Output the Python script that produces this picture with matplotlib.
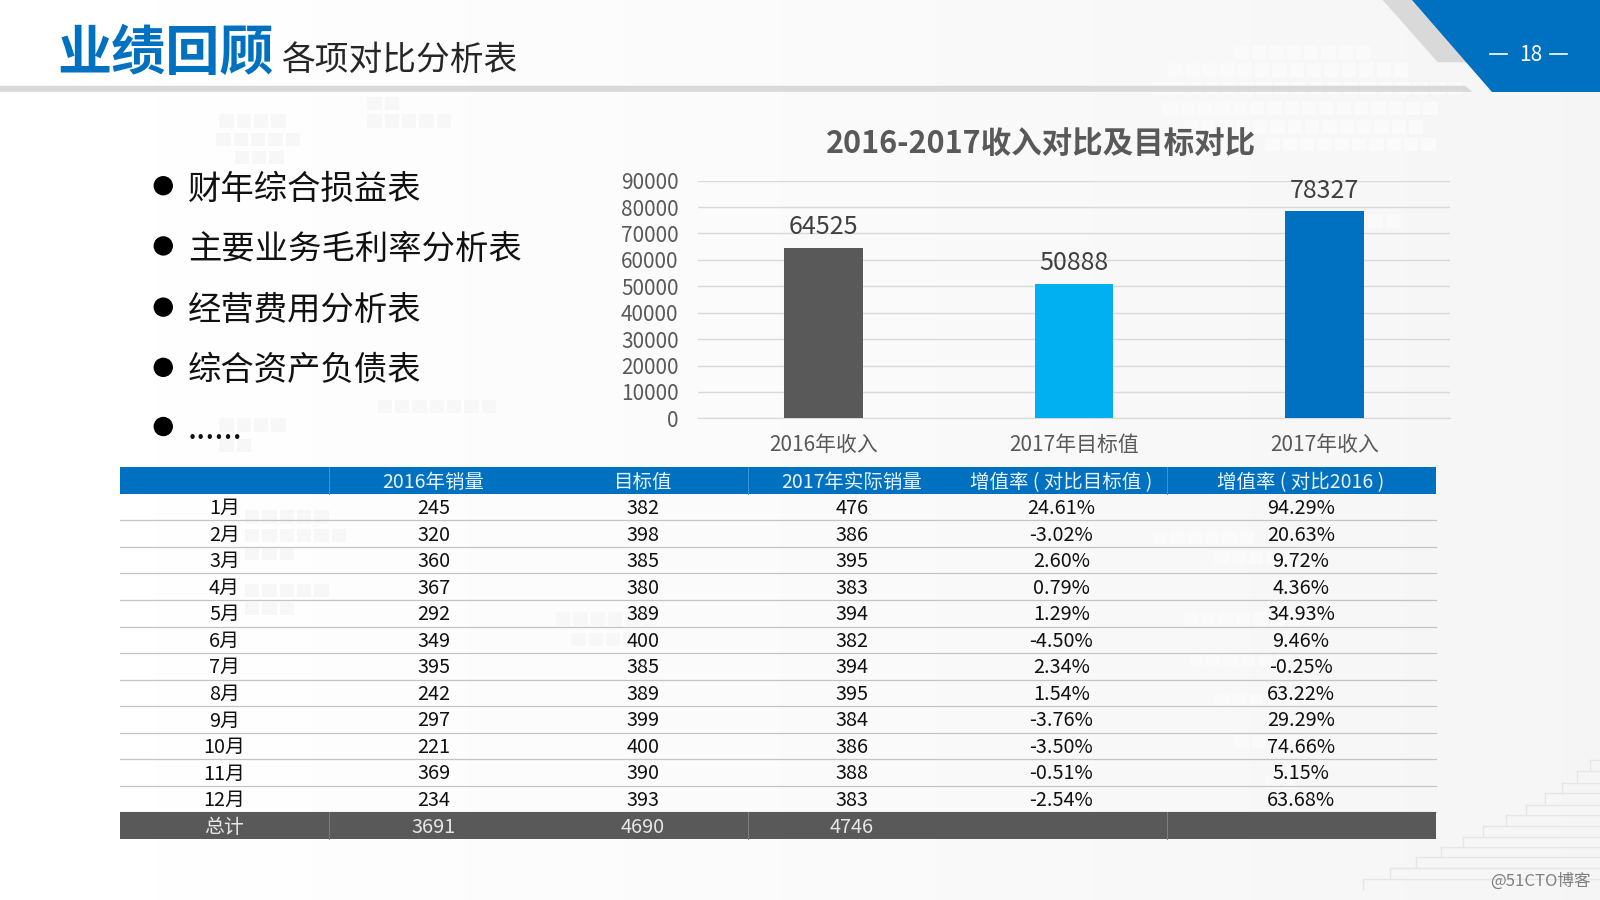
import numpy as np
import matplotlib
matplotlib.use("Agg")
import matplotlib.pyplot as plt
from matplotlib.patches import Polygon, Rectangle, Circle

plt.rcParams['font.family'] = ['Noto Sans CJK SC', 'DejaVu Sans']

# Chart data
bar_labels = ['2016年收入', '2017年目标值', '2017年收入']
bar_values = [64525, 50888, 78327]
bar_colors = ['#595959', '#00B0F0', '#0070C0']
y_ticks = [0, 10000, 20000, 30000, 40000, 50000, 60000, 70000, 80000, 90000]

# Table data
table_header = ['', '2016年销量', '目标值', '2017年实际销量', '增值率 ( 对比目标值 )', '增值率 ( 对比2016 )']
months = ['1月', '2月', '3月', '4月', '5月', '6月', '7月', '8月', '9月', '10月', '11月', '12月']
sales_2016 = [245, 320, 360, 367, 292, 349, 395, 242, 297, 221, 369, 234]
targets = [382, 398, 385, 380, 389, 400, 385, 389, 399, 400, 390, 393]
sales_2017 = [476, 386, 395, 383, 394, 382, 394, 395, 384, 386, 388, 383]
rate_target = ['24.61%', '-3.02%', '2.60%', '0.79%', '1.29%', '-4.50%', '2.34%', '1.54%',
               '-3.76%', '-3.50%', '-0.51%', '-2.54%']
rate_2016 = ['94.29%', '20.63%', '9.72%', '4.36%', '34.93%', '9.46%', '-0.25%', '63.22%',
             '29.29%', '74.66%', '5.15%', '63.68%']
totals = ['总计', '3691', '4690', '4746', '', '']

bullets = ['财年综合损益表', '主要业务毛利率分析表', '经营费用分析表', '综合资产负债表', '......']

BLUE = '#0070C0'
W, H = 1568, 882

fig = plt.figure(figsize=(16, 9), dpi=100)

# Slide background, in reference pixel coordinates
bg = fig.add_axes([0, 0, 1, 1])
bg.set_xlim(0, W)
bg.set_ylim(H, 0)
bg.axis('off')
shade = np.linspace(1.0, 0.96, 256).reshape(1, -1)
bg.imshow(shade, cmap='gray', vmin=0, vmax=1, extent=[0, W, H, 0], aspect='auto', zorder=0)

# faint map blocks: (x start, y, count)
light_blocks = [(215, 112, 4), (212, 130, 5), (360, 95, 2), (360, 112, 5), (230, 148, 3),
                (240, 500, 5), (240, 518, 6), (240, 536, 3), (240, 572, 5), (240, 590, 3),
                (370, 392, 7), (215, 410, 4), (215, 430, 2), (545, 600, 6), (560, 620, 5)]
white_blocks = [(1210, 45, 8), (1145, 62, 14), (1130, 80, 18), (1140, 100, 16), (1160, 118, 14),
                (1240, 135, 10), (1290, 210, 5), (1130, 520, 6), (1190, 540, 5), (1160, 600, 8),
                (1165, 640, 6), (1190, 680, 5), (1210, 720, 4), (1240, 760, 2)]
for x0, y0, n in light_blocks:
    for i in range(n):
        bg.add_patch(Rectangle((x0 + i * 17, y0), 14, 13, color='#f7f7f7', lw=0, zorder=1))
for x0, y0, n in white_blocks:
    for i in range(n):
        bg.add_patch(Rectangle((x0 + i * 17, y0), 14, 13, color='#fafafa', lw=0, zorder=1))

# stairs bottom right
stair_x = [1558, 1545, 1531, 1514, 1495, 1476, 1453, 1434, 1412, 1388, 1362, 1336]
stair_y = [745, 756, 767, 777, 789, 799, 809, 820, 830, 840, 851, 861]
for sx, sy in zip(stair_x, stair_y):
    bg.plot([sx, W], [sy, sy], color='#e6e6e6', lw=1, zorder=1)
    bg.plot([sx, sx], [sy, sy + 10], color='#e6e6e6', lw=1, zorder=1)

# Header shapes
bg.add_patch(Polygon([(0, 84), (1436, 84), (1443, 90), (0, 90)], color='#d9d9d9', lw=0, zorder=2))
bg.add_patch(Polygon([(1355, 0), (1384, 0), (1438, 61), (1409, 61)], color='#d9d9d9', lw=0, zorder=2))
bg.add_patch(Polygon([(1384, 0), (W, 0), (W, 90), (1462, 90)], color=BLUE, lw=0, zorder=3))
bg.text(1500, 54, '18', color='white', fontsize=15, ha='center', va='center', zorder=4)
bg.plot([1460, 1477], [53, 53], color='white', lw=1.2, zorder=4)
bg.plot([1519, 1536], [53, 53], color='white', lw=1.2, zorder=4)

bg.text(56, 53, '业绩回顾', color=BLUE, fontsize=39, fontweight='bold', va='center', zorder=4)
bg.text(275, 59, '各项对比分析表', color='#262626', fontsize=24.3, va='center', zorder=4)

# Bullet list
bullet_y = [182, 241, 301, 360, 418]
for label, by in zip(bullets, bullet_y):
    bg.add_patch(Circle((160, by), 9.5, color='black', lw=0, zorder=4))
    bg.text(184, by + 3, label, color='#111111', fontsize=24, va='center', zorder=4)

bg.text(1020, 141, '2016-2017收入对比及目标对比', color='#595959', fontsize=22, fontweight='bold',
        ha='center', va='center', zorder=4)

# Table
col_edges = [117.5, 322, 528, 733, 938, 1144, 1407]
col_centers = [220, 425, 630, 835, 1040, 1275]
header_top = 458
row_h = 26
table_font = 14.3
text_off = 14.5

bg.add_patch(Rectangle((col_edges[0], header_top), col_edges[-1] - col_edges[0], row_h,
                       color=BLUE, lw=0, zorder=4))
for cx, label in zip(col_centers, table_header):
    bg.text(cx, header_top + text_off, label, color='#e8f3fb', fontsize=14, ha='center',
            va='center', zorder=6)

for i, month in enumerate(months):
    y = header_top + row_h * (i + 1)
    row = [month, sales_2016[i], targets[i], sales_2017[i], rate_target[i], rate_2016[i]]
    for cx, val in zip(col_centers, row):
        bg.text(cx, y + text_off, str(val), color='#111111', fontsize=table_font, ha='center',
                va='center', zorder=6)
    bg.plot([col_edges[0], col_edges[-1]], [y + row_h, y + row_h], color='#c4c4c4', lw=0.9, zorder=4)

total_y = header_top + row_h * 13
bg.add_patch(Rectangle((col_edges[0], total_y), col_edges[-1] - col_edges[0], row_h,
                       color='#595959', lw=0, zorder=4))
for cx, label in zip(col_centers, totals):
    bg.text(cx, total_y + text_off, label, color='#e6e6e6', fontsize=table_font, ha='center',
            va='center', zorder=6)

# column separators inside header and total rows
for ex in [col_edges[1], col_edges[3], col_edges[5]]:
    bg.plot([ex, ex], [header_top, header_top + row_h], color='#3f95d0', lw=0.7, zorder=5)
    bg.plot([ex, ex], [total_y, total_y + row_h], color='#7f7f7f', lw=0.7, zorder=5)

bg.text(1510, 864, '@51CTO博客', color='#808080', fontsize=12, ha='center', va='center', zorder=6)

# Bar chart
ax_left, ax_right, ax_top, ax_bottom = 684, 1421, 177, 410
ax = fig.add_axes([ax_left / W, 1 - ax_bottom / H, (ax_right - ax_left) / W, (ax_bottom - ax_top) / H])
ax.patch.set_alpha(0)
x = np.arange(len(bar_labels))
bars = ax.bar(x, bar_values, width=0.313, color=bar_colors, zorder=3)
ax.set_xlim(-0.5, 2.5)
ax.set_ylim(0, 90000)
ax.set_xticks(x, bar_labels)
ax.set_yticks(y_ticks)
ax.yaxis.grid(True, color='#d9d9d9', lw=1, zorder=0)
ax.set_axisbelow(True)
for s in ['top', 'right', 'left']:
    ax.spines[s].set_visible(False)
ax.spines['bottom'].set_color('#d9d9d9')
ax.tick_params(axis='both', length=0, labelcolor='#595959', labelsize=15)
ax.tick_params(axis='x', pad=11)
ax.tick_params(axis='y', pad=14)
for rect, val in zip(bars, bar_values):
    ax.annotate(str(val), (rect.get_x() + rect.get_width() / 2, val), xytext=(0, 5.5),
                textcoords='offset points', ha='center', va='bottom', color='#404040', fontsize=18)

fig.savefig('out.png', dpi=100)
